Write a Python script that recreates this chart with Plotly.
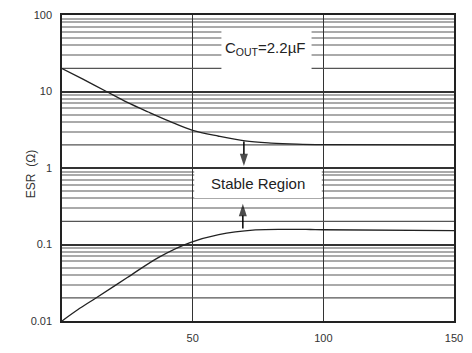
import plotly.graph_objects as go
import math

# ---- data ----
upper_x = [0, 8, 17, 25, 33, 41, 50, 60, 70, 80, 90, 100, 150]
upper_esr = [20, 14.5, 10, 7.2, 5.4, 4.1, 3.1, 2.6, 2.26, 2.12, 2.05, 2.02, 2.0]
lower_x = [0, 6, 13, 25, 37, 49, 60, 74, 85, 95, 100, 150]
lower_esr = [0.01, 0.014, 0.02, 0.037, 0.068, 0.106, 0.135, 0.155, 0.158, 0.157, 0.156, 0.152]

down_arrow_x = [69.6, 69.6]
down_arrow_esr = [2.22, 1.06]
up_arrow_x = [69.2, 69.2]
up_arrow_esr = [0.162, 0.34]

x_tickvals = [50, 100, 150]
x_ticktext = ["50", "100", "150"]
y_tickvals = [0.01, 0.1, 1, 10, 100]
y_ticktext = ["0.01", "0.1", "1", "10", "100"]
minor_vals = [m * d for d in [0.01, 0.1, 1, 10] for m in range(3, 10)]
dark_minor = [0.02, 0.2, 2, 20]

font = "Liberation Sans, Arial, sans-serif"

fig = go.Figure()
fig.add_trace(go.Scatter(x=upper_x, y=upper_esr, mode="lines",
                         line=dict(color="#222", width=1.3, shape="spline"),
                         showlegend=False, hoverinfo="skip"))
fig.add_trace(go.Scatter(x=lower_x, y=lower_esr, mode="lines",
                         line=dict(color="#222", width=1.3, shape="spline"),
                         showlegend=False, hoverinfo="skip"))
for ax_, ay_ in [(down_arrow_x, down_arrow_esr), (up_arrow_x, up_arrow_esr)]:
    fig.add_trace(go.Scatter(x=ax_, y=ay_, mode="lines+markers",
                             line=dict(color="#000", width=1.5),
                             marker=dict(symbol="arrow", size=[0, 13], angleref="previous",
                                         color="#000", line=dict(width=0)),
                             showlegend=False, hoverinfo="skip"))

shapes = []
for v in dark_minor:
    shapes.append(dict(type="line", xref="x", yref="y", x0=0, x1=150, y0=v, y1=v,
                       line=dict(color="#555", width=1.3), layer="between"))
# white label boxes
shapes.append(dict(type="rect", xref="x", yref="y", x0=61, x1=95.5, y0=19.5, y1=66,
                   fillcolor="white", line=dict(width=0), layer="between"))
shapes.append(dict(type="rect", xref="x", yref="y", x0=50.6, x1=99.4, y0=0.405, y1=0.94,
                   fillcolor="white", line=dict(width=0), layer="between"))

annotations = [
    dict(x=75, y=math.log10(0.63), xref="x", yref="y", text="Stable Region",
         showarrow=False, font=dict(family=font, size=15, color="#222")),
    dict(x=77.5, y=math.log10(37), xref="x", yref="y", text="C<sub>OUT</sub>=2.2µF",
         showarrow=False, font=dict(family=font, size=15, color="#222")),
    dict(x=-0.102, y=0.48, xref="paper", yref="paper", text="ESR  (Ω)", textangle=-90,
         showarrow=False, font=dict(family=font, size=12, color="#333")),
]

fig.update_layout(
    width=472, height=353,
    margin=dict(l=62, r=9, t=13, b=24),
    paper_bgcolor="white", plot_bgcolor="white",
    shapes=shapes, annotations=annotations,
    font=dict(family=font, size=11, color="#333"),
    xaxis=dict(range=[0, 150], tickvals=x_tickvals, ticktext=x_ticktext,
               showgrid=True, gridcolor="#333", gridwidth=1.2,
               showline=True, linecolor="#222", linewidth=1.5, mirror=True,
               zeroline=False, ticks="", ticklabelstandoff=6),
    yaxis=dict(type="log", range=[-2, 2], tickvals=y_tickvals, ticktext=y_ticktext,
               showgrid=True, gridcolor="#333", gridwidth=2.2,
               minor=dict(tickvals=minor_vals, showgrid=True, gridcolor="#aaa", gridwidth=1.5),
               showline=True, linecolor="#222", linewidth=1.5, mirror=True,
               zeroline=False, ticks="", ticklabelstandoff=6),
)

fig.write_html("out.html")
